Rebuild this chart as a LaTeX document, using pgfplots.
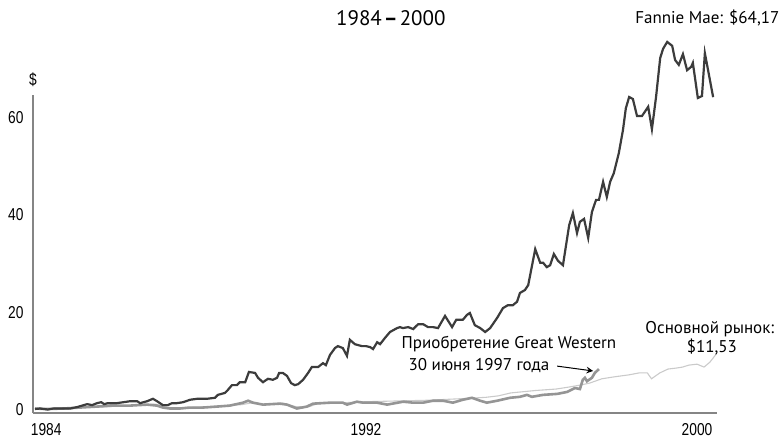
\documentclass[border=0pt]{standalone}
\usepackage{pgfplots}
\pgfplotsset{compat=1.18}
\usepackage{fontspec}
\setmainfont{PT Sans}
\newfontfamily\tickfont{Liberation Sans}[FakeStretch=0.8]
\definecolor{fannie}{HTML}{3C3C3C}
\definecolor{wamu}{HTML}{959595}
\definecolor{core}{HTML}{CACACA}
\definecolor{axisgrey}{HTML}{858585}
\begin{document}
\begin{tikzpicture}
\begin{axis}[
  x=20.6875pt, y=2.4375pt,
  xmin=1983.95, xmax=2000.48,
  ymin=-0.62, ymax=64.6,
  axis x line=bottom, axis y line=left,
  axis line style={-, axisgrey, line width=1pt},
  major tick length=0pt,
  xtick={1984.27,1992,2000}, xticklabels={1984,1992,2000},
  ytick={0,20,40,60},
  /pgf/number format/assume math mode=true,
  ticklabel style={font=\tickfont\fontsize{8.6}{9}\selectfont, text=black},
  xticklabel style={inner sep=0pt, yshift=-5pt},
  yticklabel style={inner sep=0pt, xshift=-4.5pt},
  clip=false,
]
\addplot[core, line width=0.55pt] coordinates {
(1984.00,0.2) (1984.5,0.3) (1985.0,0.5) (1985.5,0.6) (1986.0,0.8) (1986.5,1.0) (1986.9,1.2) (1987.1,0.8) (1987.3,0.4) (1987.6,0.5) (1988.0,0.6) (1988.5,0.8) (1989.0,1.1) (1989.2,1.4) (1989.5,1.2) (1990.0,1.4) (1990.3,0.7) (1990.6,0.6) (1990.8,1.2) (1991.1,1.5) (1991.5,1.5) (1992.0,1.7) (1992.5,1.8) (1993.0,1.9) (1993.5,2.0) (1994.0,2.2) (1994.5,2.4) (1994.9,2.6) (1995.2,2.9) (1995.5,3.5) (1996.1,4.0) (1996.6,4.3) (1996.9,4.7) (1997.17,5.1) (1997.4,5.5) (1997.7,6.4) (1998.0,6.8) (1998.35,7.2) (1998.6,7.6) (1998.8,7.6) (1998.9,6.4) (1999.1,7.6) (1999.3,8.4) (1999.5,8.6) (1999.65,8.8) (1999.8,9.2) (2000.0,9.4) (2000.17,8.8) (2000.31,9.8) (2000.47,11.53)
};
\addplot[wamu, line width=1.3pt] coordinates {
(1984.00,0.3) (1984.29,0.2) (1984.68,0.3) (1985.09,0.5) (1985.50,0.7) (1985.89,0.9) (1986.30,0.9) (1986.71,1.1) (1986.95,0.9) (1987.09,0.5) (1987.26,0.3) (1987.50,0.3) (1987.75,0.5) (1988.06,0.5) (1988.40,0.7) (1988.71,0.9) (1989.03,1.5) (1989.15,1.9) (1989.27,1.5) (1989.51,1.1) (1989.92,1.3) (1990.09,1.1) (1990.33,0.3) (1990.57,0.7) (1990.72,1.3) (1991.13,1.5) (1991.44,1.5) (1991.54,1.1) (1991.78,1.7) (1991.93,1.5) (1992.27,1.5) (1992.51,1.1) (1992.90,1.7) (1993.14,1.5) (1993.38,1.5) (1993.62,1.9) (1993.86,1.9) (1994.10,1.5) (1994.34,2.1) (1994.56,2.5) (1994.76,1.9) (1994.92,1.5) (1995.17,1.9) (1995.48,2.5) (1995.72,2.7) (1995.89,3.1) (1996.01,2.7) (1996.28,3.1) (1996.62,3.3) (1996.86,3.7) (1997.05,4.5) (1997.17,4.3) (1997.24,6.2) (1997.29,6.6) (1997.34,5.9) (1997.46,6.6) (1997.53,7.6) (1997.63,8.4)
};
\addplot[fannie, line width=1.1pt] coordinates {
(1984.00,0.2) (1984.12,0.3) (1984.31,0.1) (1984.44,0.3) (1984.68,0.3) (1984.85,0.3) (1985.02,0.6) (1985.26,1.2) (1985.38,1.0) (1985.50,1.4) (1985.60,1.6) (1985.67,1.2) (1985.76,1.4) (1985.98,1.4) (1986.30,1.8) (1986.47,1.8) (1986.54,1.4) (1986.71,1.8) (1986.85,2.3) (1986.95,1.8) (1987.09,1.0) (1987.21,1.0) (1987.31,1.4) (1987.43,1.4) (1987.58,1.6) (1987.75,2.1) (1987.92,2.3) (1988.16,2.3) (1988.35,2.5) (1988.42,3.1) (1988.59,3.5) (1988.66,4.1) (1988.76,5.1) (1988.88,5.1) (1988.95,5.7) (1989.08,5.7) (1989.17,7.8) (1989.32,7.6) (1989.39,6.6) (1989.51,5.7) (1989.63,6.4) (1989.75,6.2) (1989.85,6.6) (1989.90,7.6) (1989.99,7.6) (1990.09,7.0) (1990.19,5.5) (1990.28,5.1) (1990.36,5.3) (1990.48,6.2) (1990.60,7.6) (1990.69,8.8) (1990.84,8.8) (1990.96,9.6) (1991.03,9.2) (1991.13,11.3) (1991.25,12.7) (1991.32,13.1) (1991.44,12.7) (1991.54,11.1) (1991.61,14.4) (1991.73,13.5) (1991.90,13.1) (1992.00,13.1) (1992.10,12.9) (1992.17,12.5) (1992.27,13.9) (1992.34,13.5) (1992.46,14.8) (1992.58,16.0) (1992.75,16.8) (1992.82,17.0) (1992.89,16.8) (1993.02,17.0) (1993.14,16.6) (1993.26,17.6) (1993.38,17.6) (1993.50,17.0) (1993.62,17.0) (1993.74,16.8) (1993.91,19.3) (1994.08,17.0) (1994.18,18.5) (1994.34,18.5) (1994.44,19.5) (1994.51,19.9) (1994.63,17.4) (1994.76,16.8) (1994.88,16.0) (1995.00,16.8) (1995.17,18.9) (1995.31,20.9) (1995.43,21.5) (1995.55,21.5) (1995.65,22.2) (1995.72,24.0) (1995.84,24.6) (1995.92,25.6) (1996.09,33.0) (1996.21,30.2) (1996.28,30.2) (1996.37,29.3) (1996.45,29.7) (1996.54,32.0) (1996.64,30.6) (1996.76,29.7) (1996.91,37.9) (1997.00,40.4) (1997.10,36.3) (1997.17,38.6) (1997.27,39.2) (1997.37,35.3) (1997.46,40.6) (1997.56,43.1) (1997.63,43.1) (1997.73,46.8) (1997.82,43.7) (1997.90,46.8) (1997.99,48.6) (1998.11,52.7) (1998.21,57.4) (1998.28,61.9) (1998.36,64.2) (1998.45,63.8) (1998.55,60.3) (1998.67,60.3) (1998.82,62.2) (1998.91,57.6) (1999.01,64.2) (1999.11,72.2) (1999.18,74.1) (1999.28,75.5) (1999.40,74.7) (1999.47,71.8) (1999.56,70.8) (1999.66,73.0) (1999.76,69.7) (1999.86,70.4) (1999.90,71.2) (2000.02,64.0) (2000.12,64.4) (2000.19,73.2) (2000.39,64.17)
};
\node[font=\fontsize{10.5}{12}\selectfont] at (axis cs:1992.60,80.4) {1984\kern1pt\textbf{--}\kern1pt2000};
\node[anchor=east, font=\fontsize{8.5}{10}\selectfont, inner sep=0pt] at (axis cs:2002.0,80.4) {Fannie Mae: \$64,17};
\node[font=\tickfont\fontsize{8.6}{9}\selectfont, inner sep=0pt] at (axis cs:1983.95,67.7) {\$};
\node[font=\fontsize{8.5}{10}\selectfont, inner sep=0pt] at (axis cs:1995.456,13.54) {Приобретение Great Western};
\node[font=\fontsize{8.5}{10}\selectfont, inner sep=0pt] at (axis cs:1994.73,9.03) {30 июня 1997 года};
\draw[-stealth, black, line width=0.5pt] (axis cs:1996.62,9.0) -- (axis cs:1997.49,8.0);
\node[font=\fontsize{8.5}{10}\selectfont, inner sep=0pt] at (axis cs:2000.31,16.6) {Основной рынок:};
\node[font=\fontsize{8.5}{10}\selectfont, inner sep=0pt] at (axis cs:2000.36,12.9) {\$11,53};
\coordinate (BL) at (axis cs:1983.154,-5.54);
\coordinate (TR) at (axis cs:2002.03,84.1);
\end{axis}
\pgfresetboundingbox
\path[use as bounding box] (BL) rectangle (TR);
\end{tikzpicture}
\end{document}
